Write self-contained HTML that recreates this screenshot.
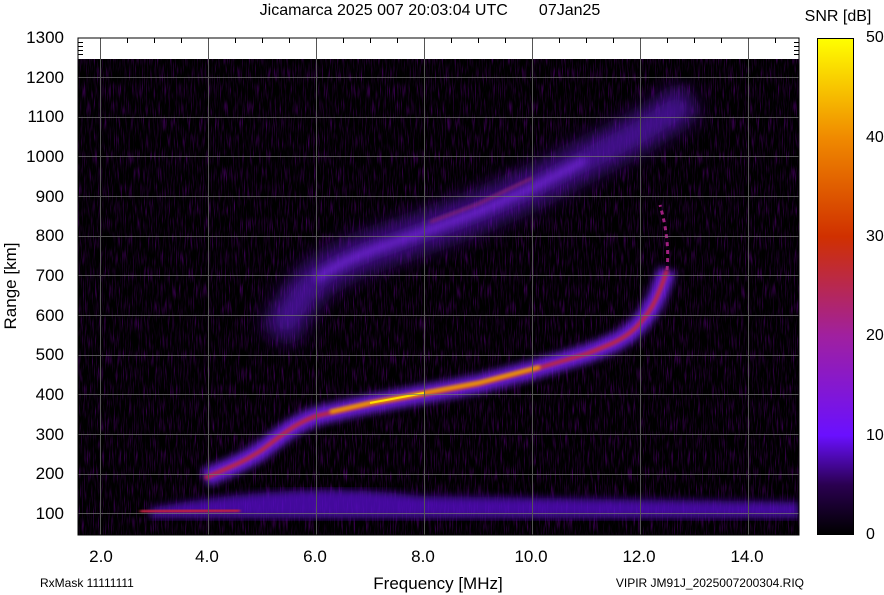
<!DOCTYPE html>
<html><head><meta charset="utf-8"><style>
body{margin:0;background:#fff;}
svg{display:block;font-family:"Liberation Sans",sans-serif;}
</style></head><body>
<svg width="884" height="595" viewBox="0 0 884 595" xmlns="http://www.w3.org/2000/svg">
<defs>
<filter id="noise" x="0" y="0" width="100%" height="100%">
<feTurbulence type="fractalNoise" baseFrequency="0.9 0.06" numOctaves="2" seed="3"/>
<feColorMatrix type="matrix" values="0 0 0 0.6 -0.15  0 0 0 0 0  0 0 0 1.3 -0.35  0 0 0 2.4 -1.15"/>
</filter>
<filter id="b4"><feGaussianBlur stdDeviation="4"/></filter>
<filter id="b8"><feGaussianBlur stdDeviation="10"/></filter>
<filter id="b2"><feGaussianBlur stdDeviation="1.5"/></filter>
<linearGradient id="cb" x1="0" y1="1" x2="0" y2="0">
<stop offset="0" stop-color="#000"/>
<stop offset="0.1" stop-color="#2a0050"/>
<stop offset="0.2" stop-color="#6a10ff"/>
<stop offset="0.4" stop-color="#a020a0"/>
<stop offset="0.6" stop-color="#d03000"/>
<stop offset="0.8" stop-color="#f08a00"/>
<stop offset="1" stop-color="#ffff00"/>
</linearGradient>
<clipPath id="pc"><rect x="78" y="59" width="721" height="476"/></clipPath>
</defs>
<text x="430" y="15" font-size="16" text-anchor="middle">Jicamarca 2025 007 20:03:04 UTC&#160;&#160;&#160;&#160;&#160;&#160;&#160;07Jan25</text>
<text x="838" y="21" font-size="16" text-anchor="middle">SNR [dB]</text>
<rect x="78" y="38" width="721" height="497" fill="#fff" stroke="#000"/>
<rect x="78" y="59" width="721" height="476" fill="#000"/>
<g clip-path="url(#pc)">
<rect x="78" y="59" width="721" height="476" filter="url(#noise)" opacity="0.45"/>
<!-- E layer -->
<path d="M150 508 Q300 480 420 496 L799 502 L799 518 L150 518Z" fill="#5a10d0" filter="url(#b4)" opacity="0.75"/>
<path d="M130 514 L799 514" stroke="#7a20ff" stroke-width="4" filter="url(#b2)"/>
<path d="M140 512 L240 510" stroke="#c02040" stroke-width="5" filter="url(#b2)"/>
<!-- diffuse upper trace -->
<path d="M278 335 Q296 300 316 279 Q340 262 370 251 L424 232 L478 212 L532 188 L586 160 L640 132 L690 100" stroke="#5a14c0" stroke-width="34" fill="none" filter="url(#b8)" opacity="0.75"/>
<path d="M316 279 Q340 262 370 251 L424 232 L478 212 L532 188 L586 160" stroke="#8a30ff" stroke-width="8" fill="none" filter="url(#b4)" opacity="0.55"/>
<path d="M430 222 L478 204 L532 178" stroke="#c03060" stroke-width="2" fill="none" filter="url(#b2)" opacity="0.7"/>
<!-- main trace -->
<path d="M205 478 L235 465 Q250 458 262 450 Q280 436 289 430 Q300 422 316 416 L370 404 L424 394 L478 384 L532 370 L586 354 Q602 348 613 343 Q630 335 640 323 Q650 312 656 299 Q662 286 667 270" stroke="#7a20ff" stroke-width="18" fill="none" filter="url(#b4)" opacity="0.85"/>
<path d="M205 478 L235 465 Q250 458 262 450 Q280 436 289 430 Q300 422 316 416 L370 404 L424 394 L478 384 L532 370 L586 354 Q602 348 613 343 Q630 335 640 323 Q650 312 656 299 Q662 286 667 270" stroke="#c02838" stroke-width="4" fill="none" filter="url(#b2)"/>
<path d="M330 412 L370 403 L424 393 L478 383 L540 367" stroke="#f0a000" stroke-width="4" fill="none" filter="url(#b2)"/>
<path d="M370 403 L424 393" stroke="#ffe000" stroke-width="2" fill="none"/>
<path d="M667 270 Q670 240 660 205" stroke="#a02080" stroke-width="3" fill="none" stroke-dasharray="4 4"/>
</g>
<!-- grid -->
<g stroke="#777" stroke-width="1" opacity="0.7">
<line x1="78" x2="799" y1="77.5" y2="77.5"/><line x1="78" x2="799" y1="117.5" y2="117.5"/><line x1="78" x2="799" y1="156.5" y2="156.5"/><line x1="78" x2="799" y1="196.5" y2="196.5"/><line x1="78" x2="799" y1="236.5" y2="236.5"/><line x1="78" x2="799" y1="275.5" y2="275.5"/><line x1="78" x2="799" y1="315.5" y2="315.5"/><line x1="78" x2="799" y1="355.5" y2="355.5"/><line x1="78" x2="799" y1="394.5" y2="394.5"/><line x1="78" x2="799" y1="434.5" y2="434.5"/><line x1="78" x2="799" y1="474.5" y2="474.5"/><line x1="78" x2="799" y1="513.5" y2="513.5"/>
</g>
<g stroke="#555" stroke-width="1">
<line x1="100.5" x2="100.5" y1="38" y2="535"/><line x1="208.5" x2="208.5" y1="38" y2="535"/><line x1="316.5" x2="316.5" y1="38" y2="535"/><line x1="424.5" x2="424.5" y1="38" y2="535"/><line x1="532.5" x2="532.5" y1="38" y2="535"/><line x1="640.5" x2="640.5" y1="38" y2="535"/><line x1="748.5" x2="748.5" y1="38" y2="535"/>
</g>
<g stroke="#000" stroke-width="1">
<path d="M127.5 38v5M154.5 38v5M181.5 38v5M235.5 38v5M262.5 38v5M289.5 38v5M343.5 38v5M370.5 38v5M397.5 38v5M451.5 38v5M478.5 38v5M505.5 38v5M559.5 38v5M586.5 38v5M613.5 38v5M667.5 38v5M694.5 38v5M721.5 38v5M775.5 38v5"/>
<path d="M78 42.5h5M78 46.5h5M78 50.5h5M78 54.5h5M799 42.5h-5M799 46.5h-5M799 50.5h-5M799 54.5h-5"/>
</g>
<rect x="78" y="38" width="721" height="497" fill="none" stroke="#000"/>
<g font-size="17" text-anchor="end">
<text x="64" y="43">1300</text><text x="64" y="83">1200</text><text x="64" y="122">1100</text><text x="64" y="162">1000</text><text x="64" y="202">900</text><text x="64" y="241">800</text><text x="64" y="281">700</text><text x="64" y="321">600</text><text x="64" y="360">500</text><text x="64" y="400">400</text><text x="64" y="440">300</text><text x="64" y="479">200</text><text x="64" y="519">100</text>
</g>
<g font-size="17" text-anchor="middle">
<text x="101" y="562">2.0</text><text x="207" y="562">4.0</text><text x="315" y="562">6.0</text><text x="423" y="562">8.0</text><text x="531" y="562">10.0</text><text x="639" y="562">12.0</text><text x="747" y="562">14.0</text>
<text x="438" y="589">Frequency [MHz]</text>
</g>
<text transform="translate(16,286) rotate(-90)" font-size="17" text-anchor="middle">Range [km]</text>
<text x="40" y="587" font-size="12">RxMask 11111111</text>
<text x="804" y="587" font-size="12" text-anchor="end">VIPIR  JM91J_2025007200304.RIQ</text>
<rect x="817.5" y="38.5" width="36" height="496" fill="url(#cb)" stroke="#000"/>
<g font-size="16">
<text x="866" y="42">50</text><text x="866" y="142">40</text><text x="866" y="241">30</text><text x="866" y="340">20</text><text x="866" y="440">10</text><text x="866" y="539">0</text>
</g>
</svg>
</body></html>
